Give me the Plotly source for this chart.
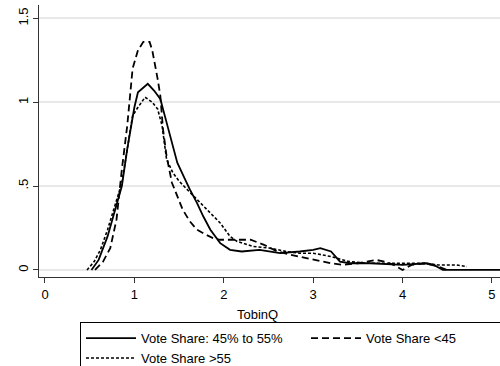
import plotly.graph_objects as go

# Series: Vote Share 45% to 55% (solid)
mid_x = [0.52, 0.6, 0.7, 0.78, 0.86, 0.92, 1.0, 1.04, 1.1, 1.15, 1.22, 1.29, 1.36, 1.42, 1.48,
         1.55, 1.62, 1.7, 1.77, 1.85, 1.96, 2.07, 2.2, 2.4, 2.63, 2.85, 3.0, 3.08, 3.15, 3.2,
         3.3, 3.41, 3.64, 4.0, 4.27, 4.35, 4.45, 4.7, 5.1]
mid_y = [0.0, 0.06, 0.2, 0.35, 0.5, 0.72, 0.97, 1.06, 1.09, 1.11, 1.07, 1.02, 0.88, 0.76, 0.64,
         0.56, 0.48, 0.40, 0.32, 0.24, 0.16, 0.12, 0.11, 0.12, 0.10, 0.11, 0.12, 0.13, 0.12, 0.11,
         0.05, 0.04, 0.04, 0.03, 0.04, 0.03, 0.0, 0.0, 0.0]

# Series: Vote Share <45 (dashed)
low_x = [0.56, 0.65, 0.73, 0.8, 0.86, 0.92, 0.95, 0.98, 1.04, 1.1, 1.17, 1.2, 1.26, 1.29, 1.32,
         1.36, 1.42, 1.48, 1.54, 1.62, 1.7, 1.8, 1.88, 1.96, 2.1, 2.3, 2.45, 2.6, 2.75, 2.93,
         3.08, 3.2, 3.33, 3.5, 3.7, 3.8, 3.9, 4.0, 4.1, 4.25, 4.4, 4.5]
low_y = [0.0, 0.05, 0.13, 0.3, 0.6, 0.86, 1.03, 1.2, 1.31, 1.36, 1.36, 1.31, 1.14, 1.04, 0.84,
         0.68, 0.52, 0.44, 0.36, 0.29, 0.24, 0.21, 0.19, 0.18, 0.18, 0.18, 0.15, 0.11, 0.09, 0.07,
         0.05, 0.04, 0.03, 0.04, 0.06, 0.05, 0.03, 0.0, 0.03, 0.04, 0.02, 0.0]

# Series: Vote Share >55 (short dash)
high_x = [0.47, 0.55, 0.62, 0.7, 0.78, 0.86, 0.92, 0.98, 1.04, 1.08, 1.12, 1.2, 1.26, 1.31,
          1.36, 1.43, 1.5, 1.59, 1.68, 1.77, 1.87, 1.96, 2.07, 2.15, 2.33, 2.52, 2.7, 2.85,
          3.0, 3.2, 3.4, 3.6, 3.8, 4.0, 4.2, 4.4, 4.6, 4.72]
high_y = [0.0, 0.05, 0.12, 0.24, 0.38, 0.52, 0.72, 0.92, 0.97, 1.0, 1.03, 1.0, 0.96, 0.86,
          0.66, 0.58, 0.53, 0.48, 0.43, 0.38, 0.33, 0.28, 0.2, 0.17, 0.14, 0.13, 0.11, 0.10,
          0.10, 0.08, 0.05, 0.04, 0.04, 0.04, 0.04, 0.03, 0.03, 0.02]

names = ["Vote Share: 45% to 55%", "Vote Share <45", "Vote Share >55"]
x_ticks = [0, 1, 2, 3, 4, 5]
y_ticks = [0, 0.5, 1, 1.5]
y_tick_labels = ["0", ".5", "1", "1.5"]

FONT = "Liberation Sans, Arial, sans-serif"

fig = go.Figure()
fig.add_trace(go.Scatter(x=mid_x, y=mid_y, mode="lines", name=names[0],
                         line=dict(color="black", width=1.8, dash="solid")))
fig.add_trace(go.Scatter(x=low_x, y=low_y, mode="lines", name=names[1],
                         line=dict(color="black", width=1.8, dash="7px,4px")))
fig.add_trace(go.Scatter(x=high_x, y=high_y, mode="lines", name=names[2],
                         line=dict(color="black", width=1.6, dash="3px,2px")))

fig.update_layout(
    width=500, height=366,
    margin=dict(l=39, r=0, t=5, b=89),
    paper_bgcolor="white", plot_bgcolor="white",
    font=dict(family=FONT, size=13, color="black"),
    showlegend=True,
    legend=dict(
        orientation="h", xref="container", yref="container",
        x=0.16, y=0.12, xanchor="left", yanchor="top",
        bordercolor="black", borderwidth=1, bgcolor="white",
        font=dict(size=13, family=FONT),
        entrywidth=160, entrywidthmode="pixels",
        itemwidth=50, tracegroupgap=0,
    ),
    xaxis=dict(
        range=[-0.067, 5.09], tickvals=x_ticks, ticks="outside", ticklen=5,
        tickcolor="#333", showgrid=False, zeroline=False,
        showline=True, linecolor="#333", linewidth=1,
        tickfont=dict(size=13),
    ),
    yaxis=dict(
        range=[-0.042, 1.58], tickvals=y_ticks, ticktext=y_tick_labels,
        ticks="outside", ticklen=5, tickcolor="#333", tickangle=-90,
        showgrid=True, gridcolor="#e8e8e8", gridwidth=1.5, zeroline=False,
        showline=True, linecolor="#333", linewidth=1,
        tickfont=dict(size=13),
    ),
    annotations=[dict(text="TobinQ", xref="paper", yref="paper", x=0.473, y=-0.137,
                      xanchor="center", yanchor="middle", showarrow=False,
                      font=dict(size=13, family=FONT))],
)

fig.write_html("out.html")
